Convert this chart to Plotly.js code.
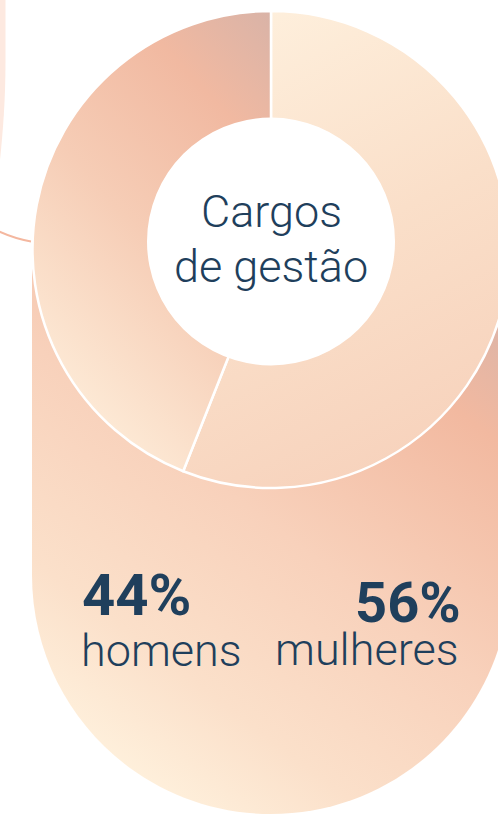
<!DOCTYPE html>
<html>
<head>
<meta charset="utf-8">
<script src="https://cdn.plot.ly/plotly-3.0.1.min.js"></script>
<style>
  html, body { margin:0; padding:0; overflow:hidden; background:#ffffff; }
  #chart { width:520px; height:814px; }
</style>
</head>
<body>
<div id="chart"></div>
<script>
// ---- data ----
const labels = ['mulheres', 'homens'];
const values = [56, 44];
const centerTitle = ['Cargos', 'de gestão'];

// ---- geometry helpers (pixel -> paper) ----
const W = 520, H = 814;
const X = px => px / W;
const Y = py => 1 - py / H;
const P = (x, y) => X(x).toFixed(5) + ',' + Y(y).toFixed(5);

const cx = 271, cy = 249.5, R = 238.5;
const TEXT = '#1f3f5c';

// pill background path (bottom semicircle via cubic beziers)
const pr = 239, pcx = 271, pcy = 575, k = 0.5523 * pr;
const pillPath = 'M' + P(32, 250) + ' L' + P(32, pcy) +
  ' C' + P(32, pcy + k) + ' ' + P(pcx - k, pcy + pr) + ' ' + P(pcx, pcy + pr) +
  ' C' + P(pcx + k, pcy + pr) + ' ' + P(510, pcy + k) + ' ' + P(510, pcy) +
  ' L' + P(510, 250) + ' Z';

const stripPath = 'M' + P(0, 0) + ' L' + P(5.5, 0) + ' L' + P(5.5, 60) +
  ' C' + P(5.5, 100) + ' ' + P(3, 130) + ' ' + P(0, 160) + ' Z';
const arcPath = 'M' + P(-2, 231) + ' Q' + P(14, 238.5) + ' ' + P(31, 241.5);

const data = [{
  type: 'pie',
  labels: labels,
  values: values,
  sort: false,
  direction: 'clockwise',
  rotation: 0,
  hole: 0.45,
  textinfo: 'none',
  hoverinfo: 'none',
  showlegend: false,
  marker: { colors: ['#f9dcc6', '#f3c3ab'], line: { color: '#ffffff', width: 2.5 } },
  domain: { x: [X(cx - R), X(cx + R)], y: [Y(cy + R), Y(cy - R)] }
}];

const annotations = [
  { text: centerTitle[0], x: X(271), y: Y(211.5), xanchor: 'center', yanchor: 'middle',
    font: { family: 'Roboto', size: 45, weight: 300, color: TEXT } },
  { text: centerTitle[1], x: X(271), y: Y(266.5), xanchor: 'center', yanchor: 'middle',
    font: { family: 'Roboto', size: 45, weight: 300, color: TEXT } },
  { text: values[1] + '%', x: X(81), y: Y(595), xanchor: 'left', yanchor: 'middle',
    font: { family: 'Roboto', size: 58, weight: 700, color: TEXT } },
  { text: labels[1], x: X(80), y: Y(650.5), xanchor: 'left', yanchor: 'middle',
    font: { family: 'Roboto', size: 45, weight: 300, color: TEXT } },
  { text: values[0] + '%', x: X(462), y: Y(603), xanchor: 'right', yanchor: 'middle',
    font: { family: 'Roboto', size: 56, weight: 700, color: TEXT } },
  { text: labels[0], x: X(460), y: Y(649.5), xanchor: 'right', yanchor: 'middle',
    font: { family: 'Roboto', size: 45, weight: 300, color: TEXT } }
].map(a => Object.assign({ xref: 'paper', yref: 'paper', showarrow: false, borderpad: 0 }, a));

const layout = {
  width: W, height: H,
  margin: { l: 0, r: 0, t: 0, b: 0, pad: 0 },
  paper_bgcolor: '#ffffff',
  plot_bgcolor: '#ffffff',
  showlegend: false,
  shapes: [
    { type: 'path', path: pillPath, xref: 'paper', yref: 'paper', layer: 'below',
      fillcolor: '#f7d0ba', line: { width: 0 } },
    { type: 'path', path: stripPath, xref: 'paper', yref: 'paper', layer: 'below',
      fillcolor: '#fde9e0', line: { width: 0 } },
    { type: 'path', path: arcPath, xref: 'paper', yref: 'paper', layer: 'below',
      line: { color: '#f4b79f', width: 2 } },
    { type: 'circle', xref: 'paper', yref: 'paper', layer: 'above',
      x0: X(271 - 124), x1: X(271 + 124), y0: Y(241.5 + 124), y1: Y(241.5 - 124),
      fillcolor: '#ffffff', line: { width: 0 } }
  ],
  annotations: annotations
};

const gd = document.getElementById('chart');
Plotly.newPlot(gd, data, layout, { staticPlot: true, displayModeBar: false }).then(() => {
  const NS = 'http://www.w3.org/2000/svg';
  const svg = gd.querySelector('svg.main-svg');
  let defs = svg.querySelector('defs');
  if (!defs) { defs = document.createElementNS(NS, 'defs'); svg.insertBefore(defs, svg.firstChild); }
  function grad(id, attrs, stops) {
    const g = document.createElementNS(NS, 'linearGradient');
    g.setAttribute('id', id);
    Object.keys(attrs).forEach(a => g.setAttribute(a, attrs[a]));
    stops.forEach(s => {
      const st = document.createElementNS(NS, 'stop');
      st.setAttribute('offset', s[0]);
      st.setAttribute('stop-color', s[1]);
      g.appendChild(st);
    });
    defs.appendChild(g);
  }
  grad('gPill', { gradientUnits: 'userSpaceOnUse', x1: 510, y1: 320, x2: 140, y2: 810 },
    [[0, '#dcb4a7'], [0.17, '#f2b9a0'], [0.5, '#f8d1bb'], [0.78, '#fbe0ca'], [1, '#fff3df']]);
  grad('gWomen', { x1: 0.25, y1: 0, x2: 0.6, y2: 1 },
    [[0, '#feefdc'], [0.5, '#fadfc9'], [1, '#f7d2bc']]);
  grad('gMen', { x1: 1, y1: 0, x2: 0.45, y2: 1 },
    [[0, '#d9b3a7'], [0.25, '#f1b9a1'], [0.6, '#f6cdb6'], [1, '#fdead6']]);

  const lower = gd.querySelector('.layer-below .shapelayer');
  if (lower) {
    const pill = lower.querySelector('path[data-index="0"]');
    if (pill) pill.style.fill = 'url(#gPill)';
  }
  gd.querySelectorAll('.slice').forEach(s => {
    const d = s.__data__;
    const path = s.querySelector('path.surface');
    if (!path || !d) return;
    path.style.fill = d.i === 0 ? 'url(#gWomen)' : 'url(#gMen)';
  });
});
</script>
</body>
</html>
